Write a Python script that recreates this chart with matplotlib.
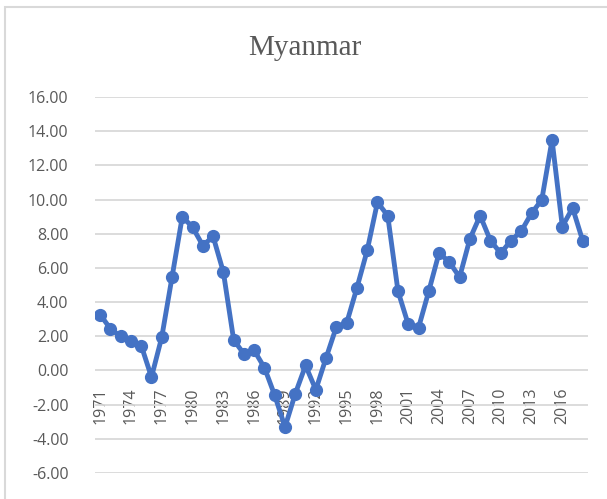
import matplotlib
matplotlib.use('Agg')
import matplotlib.pyplot as plt
from matplotlib.patches import Rectangle

years = list(range(1971, 2019))
growth = [3.27, 2.44, 1.99, 1.70, 1.46, -0.39, 1.95, 5.46, 9.00, 8.38,
          7.31, 7.84, 5.75, 1.79, 0.97, 1.17, 0.16, -1.46, -3.31, -1.36,
          0.29, -1.13, 0.74, 2.55, 2.77, 4.83, 7.02, 9.84, 9.06, 4.64,
          2.69, 2.50, 4.64, 6.88, 6.34, 5.46, 7.70, 9.06, 7.60, 6.86,
          7.60, 8.15, 9.20, 9.98, 13.49, 8.42, 9.51, 7.56]
yticks = [-6, -4, -2, 0, 2, 4, 6, 8, 10, 12, 14, 16]
xticks = list(range(1971, 2017, 3))

W, H = 607, 499
fig = plt.figure(figsize=(W / 100, H / 100), dpi=100)
ax = fig.add_axes([95 / W, 1 - 473 / H, (588 - 95) / W, (473 - 97) / H])

# chart area border (only top/left visible in the screenshot)
fig.patches.append(Rectangle((5 / W, -0.5), 2, 1.5 - 7 / H, transform=fig.transFigure,
                             fill=False, edgecolor='#d9d9d9', linewidth=1.5))

# x labels sit under the zero line, so move the (hidden) spine there first
ax.spines['bottom'].set_position(('data', 0))
ax.spines['bottom'].set_color('none')
for s in ['top', 'right', 'left']:
    ax.spines[s].set_visible(False)

ax.plot(years, growth, color='#4472C4', linewidth=3.5, marker='o',
        markersize=8.5, zorder=3)

ax.set_xlim(1970.5, 2018.5)
ax.set_ylim(-6, 16)
ax.set_yticks(yticks)
ax.set_yticklabels([f'{v:.2f}' for v in yticks])
ax.set_xticks(xticks)
ax.set_xticklabels([str(y) for y in xticks], rotation=90, va='top', ha='center')

ax.grid(axis='y', color='#d9d9d9', linewidth=1.3)
ax.set_axisbelow(True)

ax.tick_params(axis='y', length=0, pad=19, labelsize=11.5, labelcolor='#595959')
ax.tick_params(axis='x', length=0, pad=12, labelsize=11.5, labelcolor='#595959')
for lab in ax.get_xticklabels() + ax.get_yticklabels():
    lab.set_family('Open Sans')

fig.text(305 / W, 1 - 55 / H, 'Myanmar', ha='center', va='baseline',
         family='Liberation Serif', fontsize=21, color='#595959')

fig.savefig('out.png', dpi=100)
